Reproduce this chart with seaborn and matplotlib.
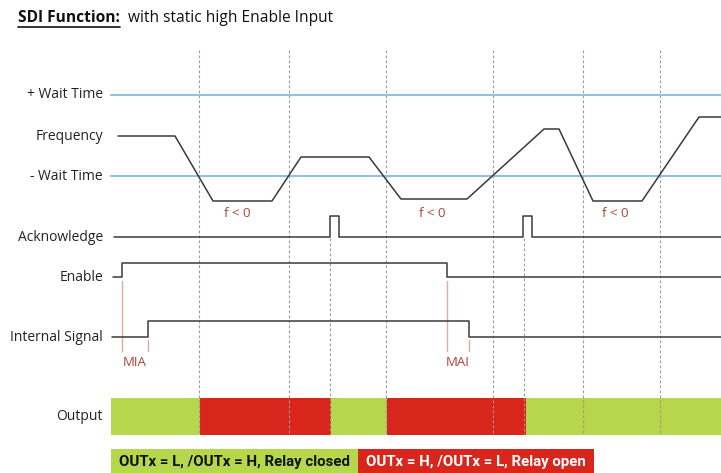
import matplotlib
matplotlib.use("Agg")
import matplotlib.pyplot as plt
import seaborn as sns

# timing diagram values (x = time position, y = level on the drawing)
wait_levels = [95, 176]

freq_t = [118, 175, 213, 272, 301, 369, 401, 467, 544, 559, 593, 642, 699, 721]
freq_y = [136, 136, 201, 201, 157, 157, 199, 199, 129, 129, 201, 201, 117, 117]

ack_t = [114, 330, 339, 523, 532, 721]
ack_y = [237, 216, 237, 216, 237, 237]

enable_t = [113, 122, 447, 721]
enable_y = [277, 263, 277, 277]

internal_t = [112, 148, 469, 721]
internal_y = [337, 321, 337, 337]

row_labels = ["+ Wait Time", "Frequency", "- Wait Time", "Acknowledge",
              "Enable", "Internal Signal", "Output"]
row_y = [95, 136, 176, 237, 277, 337, 416]

event_x = [199, 289, 386, 493, 583, 660]
ack_event_x = [330, 524]

f_neg_x = [237, 432, 615]

mia_x = [122, 148]
mai_x = [447, 469]

out_edges = [111, 200, 331, 387, 526, 721]
out_state = ["closed", "open", "closed", "open", "closed"]

legend_text = ["OUTx = L, /OUTx = H, Relay closed", "OUTx = H, /OUTx = L, Relay open"]
legend_edges = [111, 358, 594]

GREEN = "#b6d64c"
RED = "#d9261c"
BLUE = "#8fc3dd"
DARK = "#3a3a3a"
BROWN = "#a94438"
PINK = "#e2aaa3"

sns.set_theme(style="white")
plt.rcParams["font.family"] = ["Open Sans", "DejaVu Sans"]

fig = plt.figure(figsize=(7.21, 4.73), dpi=100)
ax = fig.add_axes([0, 0, 1, 1])
ax.set_xlim(0, 721)
ax.set_ylim(473, 0)
ax.axis("off")

# dashed event markers
for x in event_x:
    ax.plot([x, x], [50, 435], color="#9a9a9a", lw=0.8, ls=(0, (2.5, 2)), zorder=1)
for x in ack_event_x:
    ax.plot([x, x], [238, 435], color="#9a9a9a", lw=0.8, ls=(0, (2.5, 2)), zorder=1)

# wait time thresholds
for y in wait_levels:
    ax.plot([111, 721], [y, y], color=BLUE, lw=1.5, zorder=2)

# signals
sns.lineplot(x=freq_t, y=freq_y, ax=ax, color=DARK, lw=1.1, sort=False,
             estimator=None, zorder=3)
sns.lineplot(x=ack_t, y=ack_y, ax=ax, color=DARK, lw=1.1, sort=False,
             estimator=None, drawstyle="steps-post", zorder=3)
sns.lineplot(x=enable_t, y=enable_y, ax=ax, color=DARK, lw=1.1, sort=False,
             estimator=None, drawstyle="steps-post", zorder=3)
sns.lineplot(x=internal_t, y=internal_y, ax=ax, color=DARK, lw=1.1, sort=False,
             estimator=None, drawstyle="steps-post", zorder=3)

# f < 0 labels
for x in f_neg_x:
    ax.text(x, 213, "f < 0", color=BROWN, fontsize=9.5, ha="center", va="center")

# MIA / MAI delays
ax.plot([mia_x[0]] * 2, [281, 351], color=PINK, lw=1)
ax.plot([mia_x[1]] * 2, [340, 351], color=PINK, lw=1)
ax.text(sum(mia_x) / 2, 362, "MIA", color=BROWN, fontsize=9.5, ha="center", va="center")
ax.plot([mai_x[0]] * 2, [281, 351], color=PINK, lw=1)
ax.plot([mai_x[1]] * 2, [340, 351], color=PINK, lw=1)
ax.text(sum(mai_x) / 2, 362, "MAI", color=BROWN, fontsize=9.5, ha="center", va="center")

# row labels
for lab, y in zip(row_labels, row_y):
    ax.text(103, y, lab, fontsize=10, color="#222222", ha="right", va="center")

# output bar
colors = {"closed": GREEN, "open": RED}
for i, st in enumerate(out_state):
    ax.barh(416, out_edges[i + 1] - out_edges[i], left=out_edges[i], height=37,
            color=colors[st], edgecolor="none", zorder=0.5)

# legend boxes
for i, (txt, fc, tc) in enumerate(zip(legend_text, [GREEN, RED], ["#111111", "white"])):
    ax.barh(461, legend_edges[i + 1] - legend_edges[i], left=legend_edges[i],
            height=24, color=fc, edgecolor="none")
    ax.text((legend_edges[i] + legend_edges[i + 1]) / 2, 461.5, txt, color=tc,
            fontsize=10.8, fontweight="bold", ha="center", va="center",
            family=["Roboto", "DejaVu Sans"])

# title
t1 = ax.text(18, 18, "SDI Function:", fontsize=11.2, fontweight="bold",
             ha="left", va="center", color="#111111")
fig.canvas.draw()
bb = t1.get_window_extent().transformed(ax.transData.inverted())
ax.plot([bb.x0, bb.x1], [27, 27], color="#111111", lw=1.2)
ax.text(bb.x1 + 8, 18, "with static high Enable Input", fontsize=11.2,
        ha="left", va="center", color="#111111")

fig.savefig("out.png", dpi=100)
